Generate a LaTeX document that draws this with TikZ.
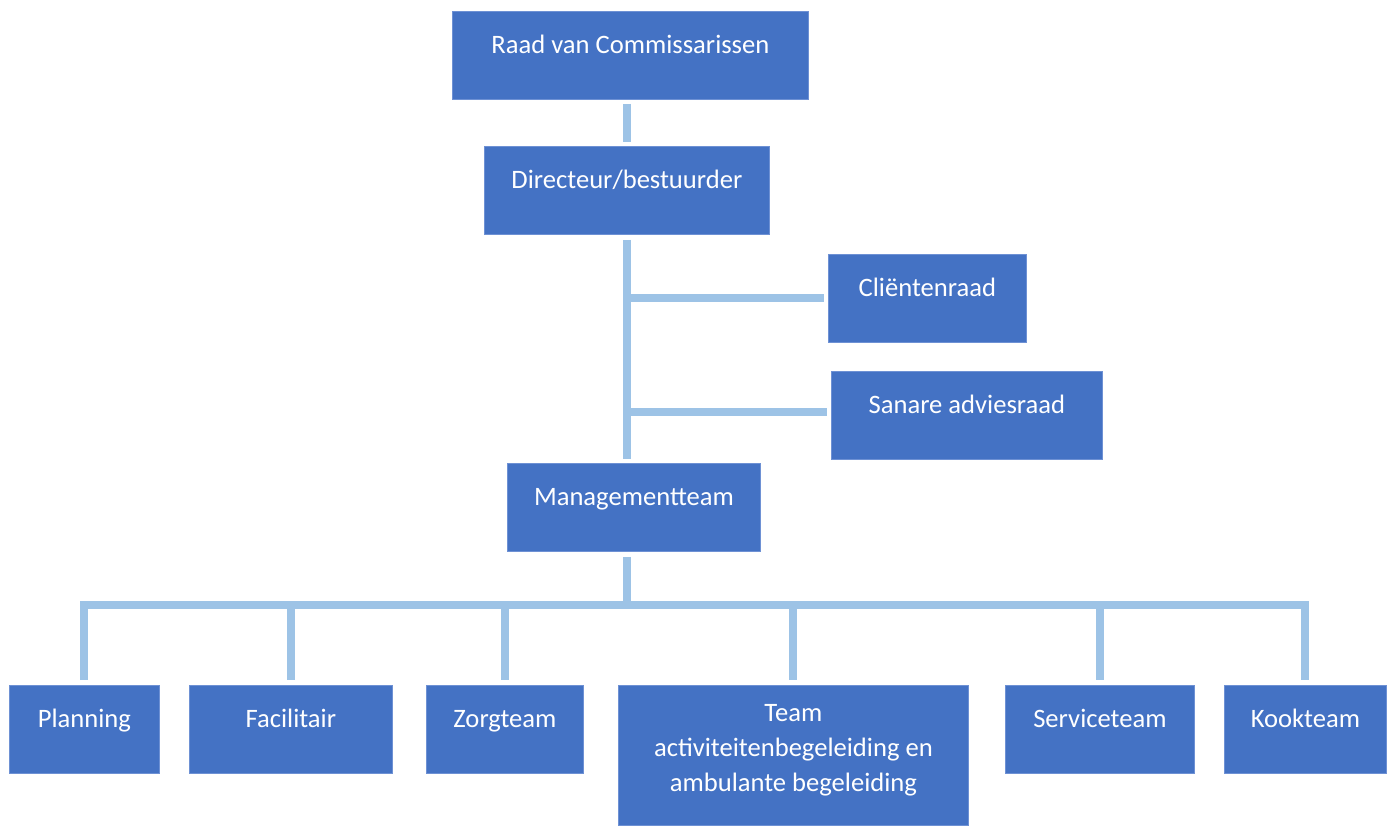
\documentclass[tikz,border=0pt]{standalone}
\usepackage{fontspec}
\setmainfont{Carlito}
\usetikzlibrary{positioning}
\definecolor{boxblue}{RGB}{68,114,196}
\definecolor{boxedge}{RGB}{110,145,212}
\definecolor{linkblue}{RGB}{157,195,230}
\tikzstyle{box}=[rectangle,anchor=north west,fill=boxblue,draw=boxedge,
  line width=.8pt,inner sep=0pt,text=white,
  text height=42pt,text depth=46pt,minimum height=88pt]
\tikzstyle{link}=[draw=linkblue,line width=8pt]

\begin{document}
\begin{tikzpicture}[x=1pt,y=-1pt,font=\fontsize{26.6pt}{35pt}\selectfont]
	\useasboundingbox (0,0) rectangle (1392,825);

	\node[box,minimum width=356pt] (raad) at (452,11) {Raad van Commissarissen};
	\node[box,minimum width=285pt] (dir) at (484,146) {Directeur/bestuurder};
	\node[box,minimum width=198pt] (client) at (828,254) {Cliëntenraad};
	\node[box,minimum width=271pt] (sanare) at (831,371) {Sanare adviesraad};
	\node[box,minimum width=253pt] (mt) at (507,463) {Managementteam};

	\node[box,minimum width=150pt] (plan) at (9,685) {Planning};
	\node[box,minimum width=203pt] (fac) at (189,685) {Facilitair};
	\node[box,minimum width=157pt] (zorg) at (426,685) {Zorgteam};
	\node[box,minimum width=350pt,text height=106pt,text depth=34pt,
	      align=center] (team) at (618,685)
	      {Team\\activiteitenbegeleiding en\\ambulante begeleiding};
	\node[box,minimum width=189pt] (serv) at (1005,685) {Serviceteam};
	\node[box,minimum width=162pt] (kook) at (1224,685) {Kookteam};

	\coordinate (bus) at (dir.south |- 0,605);

	% top of the tree
	\path[link,shorten <=4pt,shorten >=4pt] (raad.south -| dir.north) edge (dir.north);
	\path[link,shorten <=5pt,shorten >=4pt] (dir.south) edge (dir.south |- mt.north);
	\path[link,shorten >=4pt] (dir.south |- client.west) edge (client.west);
	\path[link,shorten >=4pt] ([yshift=3pt]dir.south |- sanare.west) edge ([yshift=3pt]sanare.west);

	% bus to the teams
	\path[link,shorten <=5pt] (mt.south -| bus) edge (bus);
	\draw[link,shorten <=5pt,shorten >=5pt] (plan.north) |- (bus) -| (kook.north);
	\foreach \t in {fac,zorg,team,serv}
		\path[link,shorten >=5pt] (\t.north |- bus) edge (\t.north);

\end{tikzpicture}
\end{document}
